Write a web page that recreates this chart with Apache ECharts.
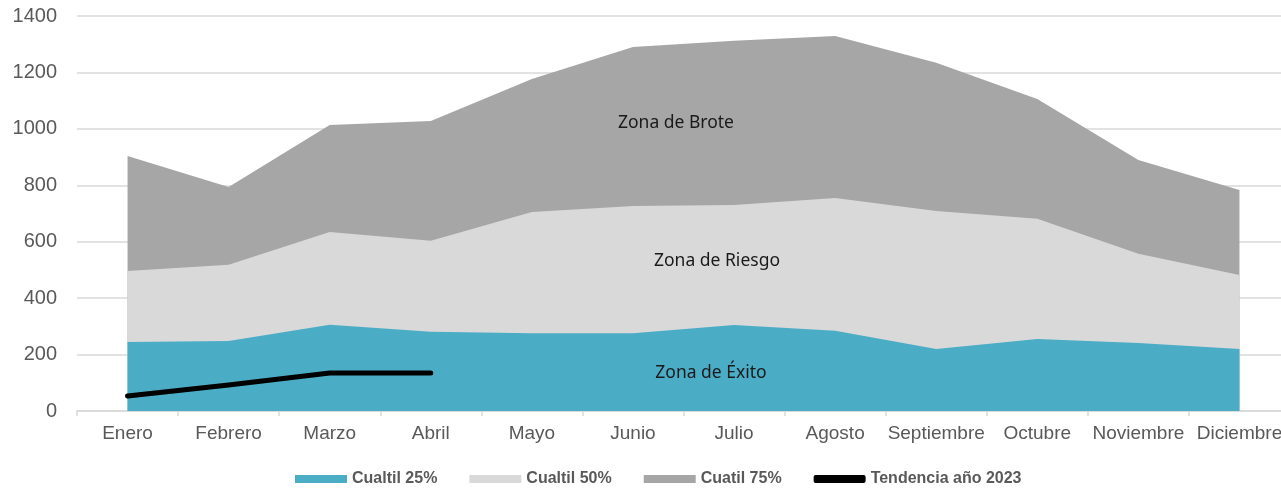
<!DOCTYPE html>
<html>
<head>
<meta charset="utf-8">
<script src="https://cdn.jsdelivr.net/npm/echarts@6/dist/echarts.min.js"></script>
<style>html,body{margin:0;padding:0;background:#fff}#c{width:1281px;height:490px}</style>
</head>
<body>
<div id="c"></div>
<script>
const categories = ['Enero','Febrero','Marzo','Abril','Mayo','Junio','Julio','Agosto','Septiembre','Octubre','Noviembre','Diciembre'];
const cuartil25 = [245, 248, 306, 281, 276, 276, 305, 284, 220, 255, 241, 220];
const cuartil50 = [496, 518, 634, 603, 705, 727, 730, 755, 709, 681, 557, 482];
const cuartil75 = [904, 794, 1014, 1028, 1177, 1290, 1312, 1329, 1234, 1106, 890, 783];
const tendencia2023 = [53, 92, 135, 135];
const yTicks = { min: 0, max: 1400, interval: 200 };
const zoneLabels = [
  { text: 'Zona de Brote', x: 676, y: 123 },
  { text: 'Zona de Riesgo', x: 717, y: 261 },
  { text: 'Zona de Éxito', x: 711, y: 373 }
];

const chart = echarts.init(document.getElementById('c'), null, { renderer: 'canvas' });
const font = 'Liberation Sans, Arial, sans-serif';
const areaSeries = (name, data, color) => ({
  name, type: 'line', data, symbol: 'none', smooth: false,
  lineStyle: { width: 0, color }, itemStyle: { color },
  areaStyle: { color, opacity: 1 }, emphasis: { disabled: true }
});
chart.setOption({
  animation: false,
  grid: { left: 77, width: 1213, top: 16, bottom: 79, containLabel: false, outerBoundsMode: 'none' },
  xAxis: {
    type: 'category', data: categories, boundaryGap: true,
    axisLine: { lineStyle: { color: '#d9d9d9', width: 1.5 } },
    axisTick: { show: true, length: 5, lineStyle: { color: '#d9d9d9', width: 1.5 } },
    axisLabel: { color: '#595959', fontSize: 19, fontFamily: font, margin: 13, interval: 0 }
  },
  yAxis: {
    type: 'value', min: yTicks.min, max: yTicks.max, interval: yTicks.interval,
    axisLine: { show: false }, axisTick: { show: false },
    splitLine: { lineStyle: { color: '#d9d9d9', width: 1.5 } },
    axisLabel: { color: '#595959', fontSize: 20, fontFamily: font, margin: 20, formatter: v => String(v) }
  },
  legend: {
    left: 290, top: 466, itemWidth: 52, itemHeight: 8, itemGap: 32,
    textStyle: { color: '#595959', fontSize: 16, fontWeight: 'bold', fontFamily: font },
    data: [
      { name: 'Cualtil 25%', icon: 'rect' },
      { name: 'Cualtil 50%', icon: 'rect' },
      { name: 'Cuatil 75%', icon: 'rect' },
      { name: 'Tendencia año 2023', icon: 'roundRect' }
    ]
  },
  series: [
    areaSeries('Cuatil 75%', cuartil75, '#a6a6a6'),
    areaSeries('Cualtil 50%', cuartil50, '#d9d9d9'),
    areaSeries('Cualtil 25%', cuartil25, '#4bacc6'),
    {
      name: 'Tendencia año 2023', type: 'line', data: tendencia2023, symbol: 'none',
      lineStyle: { color: '#000', width: 5, cap: 'round', join: 'round' },
      itemStyle: { color: '#000' }, emphasis: { disabled: true }, z: 5
    }
  ],
  graphic: zoneLabels.map(z => ({
    type: 'text', x: z.x, y: z.y, z: 100,
    style: { text: z.text, fill: '#1a1a1a', font: '17.5px "Noto Sans", sans-serif', align: 'center', verticalAlign: 'middle' }
  }))
});
</script>
</body>
</html>
